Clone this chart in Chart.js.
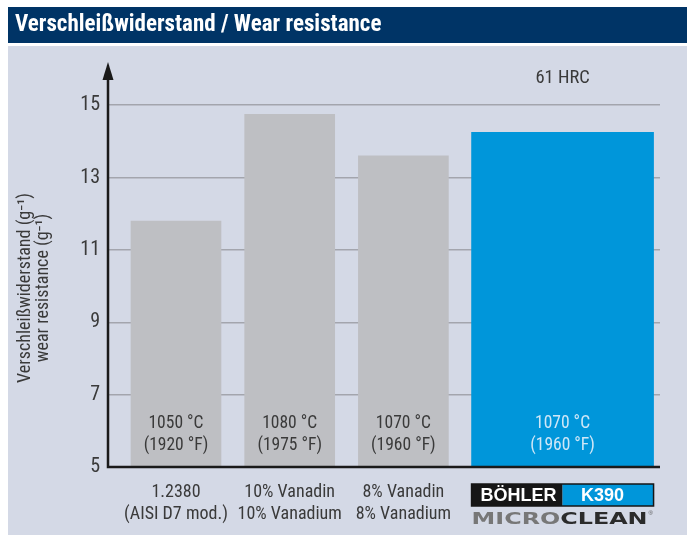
<!DOCTYPE html>
<html>
<head>
<meta charset="utf-8">
<script src="https://cdn.jsdelivr.net/npm/chart.js@4.4.1/dist/chart.umd.min.js"></script>
<style>
html,body{margin:0;padding:0;background:#fff;}
#wrap{width:694px;height:535px;}
</style>
</head>
<body>
<div id="wrap"><canvas id="c" width="694" height="535"></canvas></div>
<script>
// ---- data ----
const chartTitle = 'Verschleißwiderstand / Wear resistance';
const yTitleLines = ['Verschleißwiderstand (g⁻¹)', 'wear resistance (g⁻¹)'];
const categoryLines = [
  ['1.2380', '(AISI D7 mod.)'],
  ['10% Vanadin', '10% Vanadium'],
  ['8% Vanadin', '8% Vanadium'],
  ['BÖHLER K390 MICROCLEAN']
];
const slotPositions = [0, 1, 2, 3.4];
const wearValues = [11.8, 14.75, 13.6, 14.25];
const hardeningC = ['1050 °C', '1080 °C', '1070 °C', '1070 °C'];
const hardeningF = ['(1920 °F)', '(1975 °F)', '(1960 °F)', '(1960 °F)'];
const yTickValues = [5, 7, 9, 11, 13, 15];
const hardnessNote = '61 HRC';
const logoParts = { brand: 'BÖHLER', grade: 'K390', micro: 'MICRO', clean: 'CLEAN' };

// ---- styles ----
const FONT = "'Liberation Sans Narrow', 'Roboto Condensed', 'Roboto', sans-serif";
const NAVY = '#003466';
const PANEL = '#d4d9e6';
const GRAY_BAR = '#bebfc3';
const BLUE_BAR = '#0096da';
const TXT = '#3a3a3a';

const grayPts = slotPositions.slice(0, 3).map((x, i) => ({ x, y: wearValues[i] }));
const bluePts = slotPositions.slice(3).map((x, i) => ({ x, y: wearValues[3 + i] }));

const decor = {
  id: 'decor',
  beforeDraw(chart) {
    const ctx = chart.ctx;
    ctx.save();
    ctx.fillStyle = '#ffffff';
    ctx.fillRect(0, 0, chart.width, chart.height);
    ctx.fillStyle = NAVY;
    ctx.fillRect(8, 7, 679, 36);
    ctx.fillStyle = PANEL;
    ctx.fillRect(8, 46, 679, chart.height - 46);
    ctx.fillStyle = '#ffffff';
    ctx.font = "bold 23px " + FONT;
    ctx.textBaseline = 'middle';
    ctx.textAlign = 'left';
    ctx.fillText(chartTitle, 15, 25.5, 393);
    ctx.restore();
  },
  afterDatasetsDraw(chart) {
    const ctx = chart.ctx;
    const ca = chart.chartArea;
    const xs = chart.scales.x, ys = chart.scales.y;
    ctx.save();
    // axes lines on top of bars
    ctx.strokeStyle = '#1a1a1a';
    ctx.lineWidth = 2.5;
    ctx.beginPath();
    ctx.moveTo(ca.left, ca.top + 10);
    ctx.lineTo(ca.left, ca.bottom);
    ctx.lineTo(ca.right, ca.bottom);
    ctx.stroke();
    // arrow
    ctx.fillStyle = '#1a1a1a';
    ctx.beginPath();
    ctx.moveTo(ca.left, ca.top - 7);
    ctx.lineTo(ca.left - 5.5, ca.top + 11);
    ctx.lineTo(ca.left + 5.5, ca.top + 11);
    ctx.closePath();
    ctx.fill();
    // labels inside bars
    ctx.font = "17.5px " + FONT;
    ctx.textAlign = 'center';
    ctx.textBaseline = 'middle';
    const all = [];
    chart.getSortedVisibleDatasetMetas().forEach(m => m.data.forEach((el, i) => all.push({ el, xv: m._parsed[i].x })));
    all.forEach(({ el, xv }) => {
      const idx = slotPositions.indexOf(xv);
      ctx.fillStyle = idx === 3 ? '#cfe7f7' : TXT;
      ctx.fillText(hardeningC[idx], el.x, ca.bottom - 43);
      ctx.fillText(hardeningF[idx], el.x, ca.bottom - 21);
    });
    // hardness note
    ctx.fillStyle = TXT;
    ctx.font = "18.5px " + FONT;
    ctx.fillText(hardnessNote, xs.getPixelForValue(slotPositions[3]), ys.getPixelForValue(15.75));
    // y axis title
    ctx.save();
    ctx.translate(25, 288);
    ctx.rotate(-Math.PI / 2);
    ctx.font = "18px " + FONT;
    ctx.fillStyle = TXT;
    ctx.fillText(yTitleLines[0], 0, 0);
    ctx.fillText(yTitleLines[1], 0, 18);
    ctx.restore();
    // logo
    const cx = xs.getPixelForValue(slotPositions[3]);
    const lx = cx - 91, top = 484;
    ctx.fillStyle = '#161616';
    ctx.fillRect(lx, top, 91, 22);
    ctx.fillStyle = BLUE_BAR;
    ctx.fillRect(lx + 91, top, 91, 22);
    ctx.strokeStyle = '#161616';
    ctx.lineWidth = 1.5;
    ctx.strokeRect(lx, top, 182, 22);
    ctx.fillStyle = '#ffffff';
    ctx.font = "bold 18px 'Liberation Sans', Arial, sans-serif";
    ctx.textAlign = 'center';
    ctx.fillText(logoParts.brand, lx + 47, top + 12);
    ctx.fillText(logoParts.grade, lx + 131, top + 12);
    // MICROCLEAN
    ctx.font = "bold 16px 'DejaVu Sans', sans-serif";
    ctx.textAlign = 'left';
    ctx.textBaseline = 'alphabetic';
    const w1 = ctx.measureText(logoParts.micro).width;
    const w2 = ctx.measureText(logoParts.clean).width;
    const sx = 176 / (w1 + w2);
    ctx.save();
    ctx.translate(lx, 523.5);
    ctx.scale(sx, 1);
    ctx.fillStyle = '#777777';
    ctx.fillText(logoParts.micro, 0, 0);
    ctx.fillStyle = '#2b2b2b';
    ctx.fillText(logoParts.clean, w1, 0);
    ctx.restore();
    ctx.font = "6px sans-serif";
    ctx.fillStyle = '#555';
    ctx.fillText('®', lx + 177, 515);
    ctx.restore();
  }
};

new Chart(document.getElementById('c'), {
  type: 'bar',
  data: {
    datasets: [
      { data: grayPts, backgroundColor: GRAY_BAR, barThickness: 90, grouped: false },
      { data: bluePts, backgroundColor: BLUE_BAR, barThickness: 182, grouped: false }
    ]
  },
  options: {
    responsive: false,
    animation: false,
    devicePixelRatio: 1,
    layout: { padding: { top: 69, right: 34, left: 0, bottom: 0 } },
    plugins: { legend: { display: false }, tooltip: { enabled: false }, title: { display: false } },
    scales: {
      x: {
        type: 'linear',
        min: -0.598,
        max: 4.257,
        offset: false,
        grid: { display: false, drawTicks: false },
        border: { display: false },
        afterBuildTicks: s => { s.ticks = slotPositions.map(v => ({ value: v })); },
        afterFit: s => { s.height = 68; },
        ticks: {
          autoSkip: false,
          maxRotation: 0,
          padding: 15,
          color: TXT,
          font: { family: FONT, size: 18, lineHeight: 1.2 },
          callback: (v) => {
            const i = slotPositions.indexOf(v);
            return i === 3 ? '' : categoryLines[i];
          }
        }
      },
      y: {
        min: 5,
        max: 16,
        grid: { color: '#a3a5ad', lineWidth: 1.5, drawTicks: false },
        border: { display: false },
        afterBuildTicks: s => { s.ticks = yTickValues.map(v => ({ value: v })); },
        afterFit: s => { s.width = 108; },
        ticks: {
          padding: 8,
          color: TXT,
          font: { family: FONT, size: 20 },
          callback: v => String(v)
        }
      }
    }
  },
  plugins: [decor]
});
</script>
</body>
</html>
